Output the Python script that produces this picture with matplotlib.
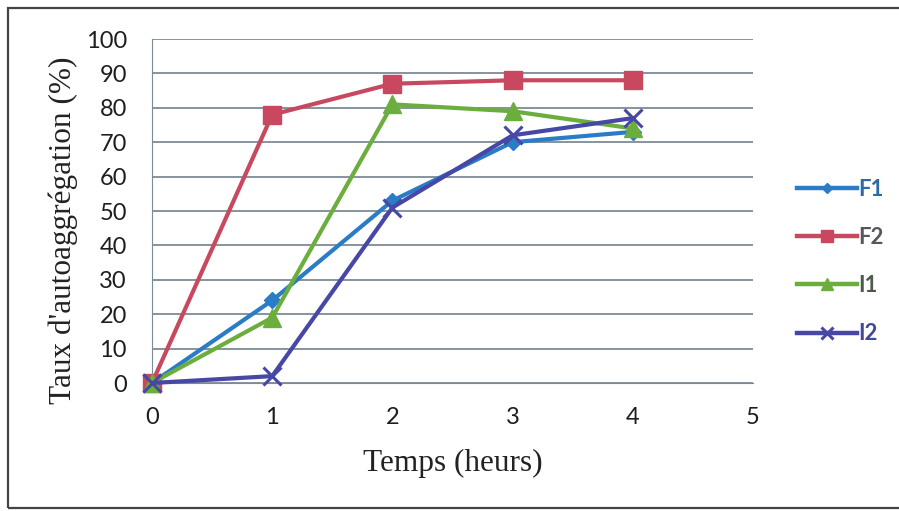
import matplotlib.pyplot as plt
from matplotlib.patches import Rectangle

# temps (heurs) and autoaggregation rate (%) for each strain
hours = [0, 1, 2, 3, 4]
f1 = [0, 24, 53, 70, 73]
f2 = [0, 78, 87, 88, 88]
i1 = [0, 19, 81, 79, 74]
i2 = [0, 2, 51, 72, 77]

x_ticks = [0, 1, 2, 3, 4, 5]
y_ticks = list(range(0, 101, 10))

# name, values, line colour, marker, marker size, legend text colour
series = [
    ("F1", f1, "#2a7cc6", "D", 8, "#2a6aa8"),
    ("F2", f2, "#c8485f", "s", 13, "#595462"),
    ("I1", i1, "#6cae3e", "^", 13, "#4d5a4c"),
    ("I2", i2, "#4747a6", "x", 13, "#40489a"),
]

fig = plt.figure(figsize=(8.99, 5.11), dpi=100)
fig.patch.set_facecolor("white")
ax = fig.add_axes([152 / 899, 1 - 383 / 511, 601 / 899, 344 / 511])

for name, vals, color, marker, ms, _ in series:
    ax.plot(hours, vals, color=color, lw=3, marker=marker, ms=ms,
            mew=2.2 if marker == "x" else 1, mec=color, label=name,
            clip_on=False, zorder=3)

ax.set_xlim(0, 5)
ax.set_ylim(0, 100)
ax.set_xticks(x_ticks)
ax.set_yticks(y_ticks)
ax.tick_params(axis="y", length=0, pad=18, labelsize=17, labelcolor="#1e1e1e")
ax.tick_params(axis="x", length=0, pad=17, labelsize=17, labelcolor="#1e1e1e")
for lbl in ax.get_xticklabels() + ax.get_yticklabels():
    lbl.set_fontfamily("Lato")
ax.grid(axis="y", color="#7d8b96", lw=1.3)
ax.set_axisbelow(True)
for side in ["top", "right"]:
    ax.spines[side].set_visible(False)
ax.spines["left"].set_color("#7d8b96")
ax.spines["bottom"].set_color("#7d8b96")

fig.text(453 / 899, 1 - 463 / 511, "Temps (heurs)", family="Liberation Serif",
         fontsize=22.5, color="#222222", ha="center", va="center")
fig.text(63 / 899, 1 - 230 / 511, "Taux d'autoaggrégation (%)",
         family="Liberation Serif", fontsize=22.5, color="#222222",
         rotation=90, ha="center", va="center")

leg = fig.legend(loc="upper left", bbox_to_anchor=(0.877, 0.667),
                 frameon=False, handlelength=2.7, handletextpad=0.05,
                 labelspacing=1.22, borderaxespad=0,
                 prop={"family": "Lato", "size": 16, "weight": "bold"})
for text, handle, s in zip(leg.get_texts(), leg.legend_handles, series):
    text.set_color(s[5])
    handle.set_markersize(s[4] * 0.7)
    handle.set_linewidth(3.2)

# outer chart frame
fig.patches.append(Rectangle((8 / 899, 3 / 511), 900 / 899, 500 / 511,
                             transform=fig.transFigure, fill=False,
                             edgecolor="#444444", lw=1.6))

fig.savefig("out.png", dpi=100)
